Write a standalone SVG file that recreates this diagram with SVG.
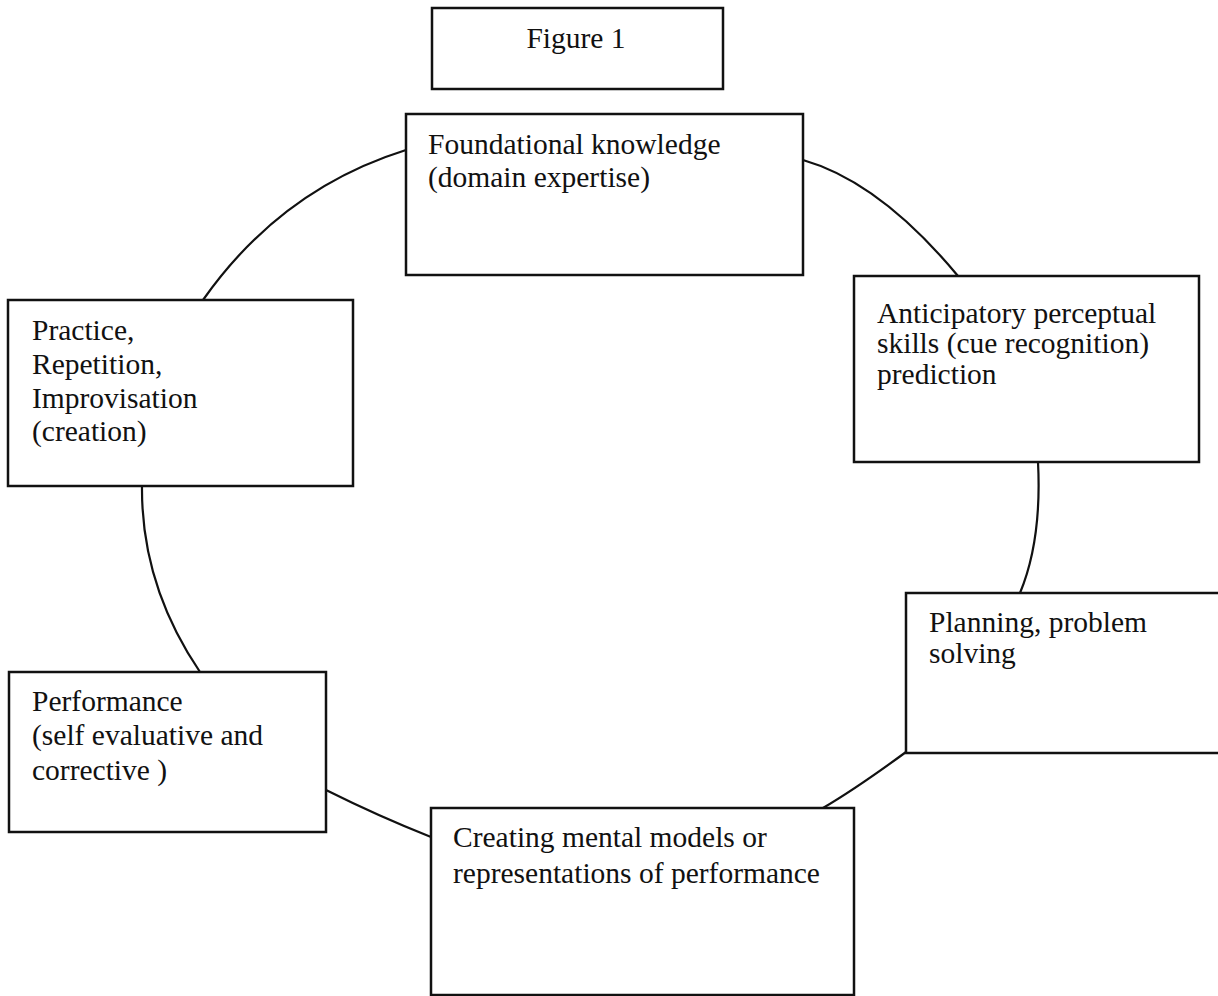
<svg xmlns="http://www.w3.org/2000/svg" width="1218" height="996" viewBox="0 0 1218 996">
<style>
.box{fill:#fff;stroke:#111;stroke-width:2.5}
.t{font-family:"Liberation Serif","Times New Roman",serif;font-size:29.5px;fill:#111}
.c{fill:none;stroke:#111;stroke-width:2.2}
</style>
<rect width="1218" height="996" fill="#fff"/>
<g id="connectors">
<path class="c" d="M406,150 Q281,189 203,300"/>
<path class="c" d="M803,160 Q880,182 958,276"/>
<path class="c" d="M1038,462 Q1042,540 1020,593"/>
<path class="c" d="M906,752 Q857,788 823,808"/>
<path class="c" d="M326,790 Q378,816 431,837"/>
<path class="c" d="M142,486 Q141,585 200,672"/>
</g>
<g id="title">
<rect class="box" x="432" y="8" width="291" height="81"/>
<text class="t" x="576" y="48" text-anchor="middle">Figure 1</text>
</g>
<g id="foundational">
<rect class="box" x="406" y="114" width="397" height="161"/>
<text class="t" x="428" y="154">Foundational knowledge</text>
<text class="t" x="428" y="187">(domain expertise)</text>
</g>
<g id="anticipatory">
<rect class="box" x="854" y="276" width="345" height="186"/>
<text class="t" x="877" y="323">Anticipatory perceptual</text>
<text class="t" x="877" y="353">skills (cue recognition)</text>
<text class="t" x="877" y="384">prediction</text>
</g>
<g id="planning">
<rect class="box" x="906" y="593" width="316" height="160"/>
<text class="t" x="929" y="632">Planning, problem</text>
<text class="t" x="929" y="663">solving</text>
</g>
<g id="creating">
<rect class="box" x="431" y="808" width="423" height="187"/>
<text class="t" x="453" y="847">Creating mental models or</text>
<text class="t" x="453" y="883">representations of performance</text>
</g>
<g id="performance">
<rect class="box" x="9" y="672" width="317" height="160"/>
<text class="t" x="32" y="711">Performance</text>
<text class="t" x="32" y="745">(self evaluative and</text>
<text class="t" x="32" y="780">corrective )</text>
</g>
<g id="practice">
<rect class="box" x="8" y="300" width="345" height="186"/>
<text class="t" x="32" y="340">Practice,</text>
<text class="t" x="32" y="374">Repetition,</text>
<text class="t" x="32" y="408">Improvisation</text>
<text class="t" x="32" y="441">(creation)</text>
</g>
</svg>
